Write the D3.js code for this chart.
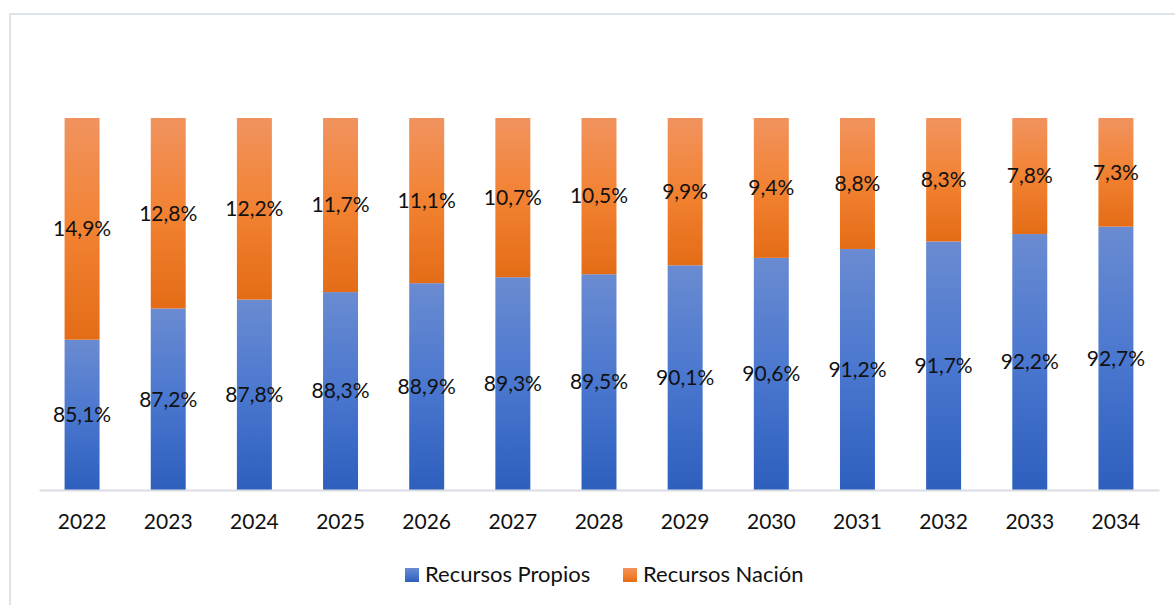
<!DOCTYPE html>
<html>
<head>
<meta charset="utf-8">
<script src="https://cdn.jsdelivr.net/npm/d3@7"></script>
<style>
  html, body { margin: 0; padding: 0; background: #fff; }
  svg { display: block; font-family: Lato, "Open Sans", sans-serif; }
</style>
</head>
<body>
<svg id="chart" width="1175" height="605"></svg>
<script>
// Funding share by year (percent)
const years = ["2022","2023","2024","2025","2026","2027","2028","2029","2030","2031","2032","2033","2034"];
const propios = [85.1, 87.2, 87.8, 88.3, 88.9, 89.3, 89.5, 90.1, 90.6, 91.2, 91.7, 92.2, 92.7];
const nacion  = [14.9, 12.8, 12.2, 11.7, 11.1, 10.7, 10.5, 9.9, 9.4, 8.8, 8.3, 7.8, 7.3];
const seriesNames = ["Recursos Propios", "Recursos Nación"];
const yDomain = [75, 100];

const svg = d3.select("#chart");

// Chart frame
svg.append("rect")
  .attr("x", 10).attr("y", 14)
  .attr("width", 1180).attr("height", 620)
  .attr("fill", "none").attr("stroke", "#dde3ea").attr("stroke-width", 2);

// Gradients: each bar segment fades from light (top) to dark (bottom)
const defs = svg.append("defs");
function grad(id, stops) {
  const g = defs.append("linearGradient").attr("id", id)
    .attr("x1", 0).attr("y1", 0).attr("x2", 0).attr("y2", 1);
  stops.forEach(([o, c]) => g.append("stop").attr("offset", o).attr("stop-color", c));
}
grad("gBlue", [[0, "#6a8bd1"], [0.5, "#4a77cf"], [1, "#2e5fbd"]]);
grad("gOrange", [[0, "#f1935f"], [0.5, "#f28232"], [1, "#e46c16"]]);

const plot = { left: 39, right: 1159, top: 118, bottom: 490 };

const x = d3.scaleBand().domain(years)
  .range([plot.left, plot.right]).paddingInner(0.594).paddingOuter(0.297);
const y = d3.scaleLinear().domain(yDomain).range([plot.bottom, plot.top]);

const rows = years.map((yr, i) => ({ year: yr, propios: propios[i], nacion: nacion[i] }));
const stack = d3.stack().keys(["propios", "nacion"]);
const layers = stack(rows);
const fills = ["url(#gBlue)", "url(#gOrange)"];

// Bars
layers.forEach((layer, li) => {
  svg.append("g").selectAll("rect").data(layer).enter().append("rect")
    .attr("x", d => x(d.data.year))
    .attr("width", x.bandwidth())
    .attr("y", d => y(Math.min(d[1], yDomain[1])))
    .attr("height", d => y(Math.max(d[0], yDomain[0])) - y(Math.min(d[1], yDomain[1])))
    .attr("fill", fills[li]);
});

// Value labels centred on the visible part of each segment
const fmt = v => v.toFixed(1).replace(".", ",") + "%";
layers.forEach((layer) => {
  svg.append("g").selectAll("text").data(layer).enter().append("text")
    .attr("x", d => x(d.data.year) + x.bandwidth() / 2)
    .attr("y", d => (y(Math.max(d[0], yDomain[0])) + y(Math.min(d[1], yDomain[1]))) / 2)
    .attr("dy", "0.35em")
    .attr("text-anchor", "middle")
    .attr("font-size", 21)
    .attr("fill", "#111")
    .text(d => fmt(d[1] - d[0]));
});

// Category axis
const xAxis = svg.append("g")
  .attr("transform", `translate(0,${plot.bottom})`)
  .call(d3.axisBottom(x).tickSize(0).tickPadding(0).tickSizeOuter(0));
xAxis.select(".domain").attr("stroke", "#d9dde3").attr("stroke-width", 2);
xAxis.selectAll("text")
  .attr("y", 39).attr("dy", 0)
  .attr("font-size", 21).attr("font-family", "Lato, 'Open Sans', sans-serif")
  .attr("fill", "#111");

// Legend
const legend = svg.append("g");
const legendItems = [
  { name: seriesNames[0], fill: "url(#gBlue)", x: 405 },
  { name: seriesNames[1], fill: "url(#gOrange)", x: 623 }
];
legendItems.forEach(it => {
  legend.append("rect").attr("x", it.x).attr("y", 568).attr("width", 14).attr("height", 14).attr("fill", it.fill);
  legend.append("text").attr("x", it.x + 20).attr("y", 582)
    .attr("font-size", 22).attr("fill", "#111").text(it.name);
});
</script>
</body>
</html>
